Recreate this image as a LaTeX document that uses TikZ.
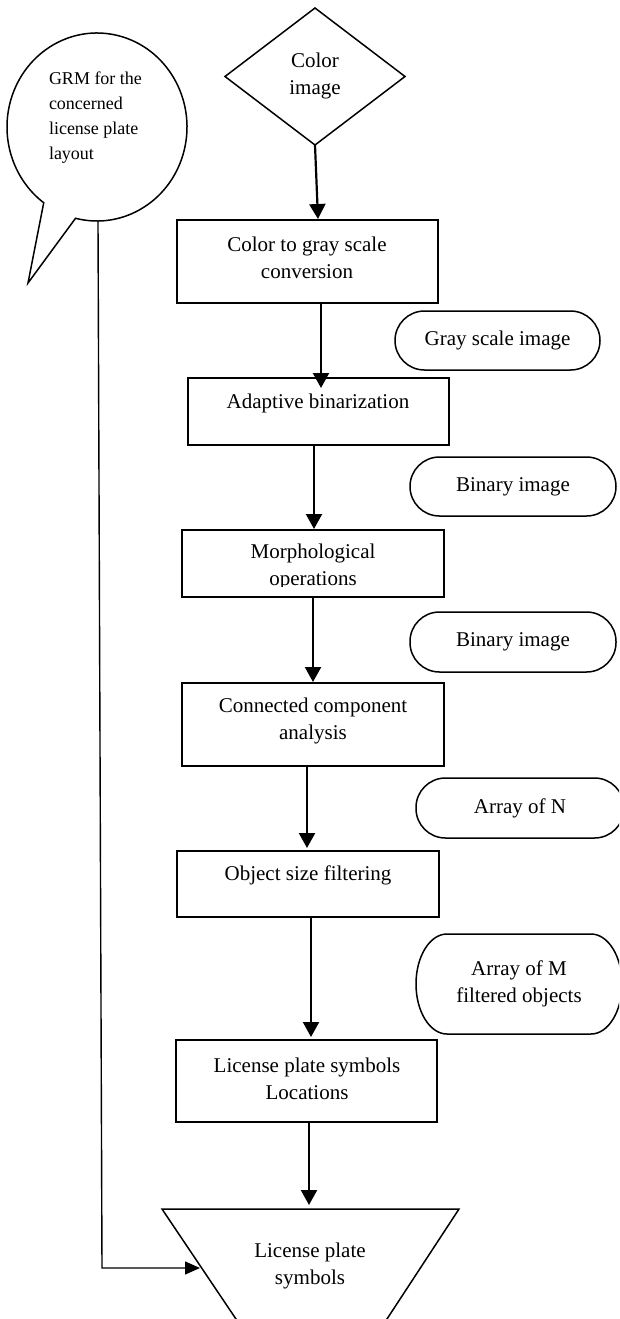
\documentclass[tikz,border=0pt]{standalone}
\usepackage{fontspec}
\setmainfont{Liberation Serif}
\usetikzlibrary{arrows.meta,shapes.geometric,calc}
\begin{document}
\begin{tikzpicture}[x=1pt,y=1pt,
  every node/.style={font=\fontsize{21}{27}\selectfont, inner sep=0pt, outer sep=0pt, align=center},
  box/.style={draw, line width=1.5pt, rectangle},
  term/.style={draw, line width=1.5pt, rounded corners=29.5pt},
  termline/.style={line width=1.5pt},
  arr/.style={line width=2.2pt, -{Triangle[width=16pt,length=15pt]}},
  fb/.style={line width=1.4pt, -{Triangle[width=13pt,length=15pt]}},
  smalltxt/.style={font=\fontsize{18}{25}\selectfont, align=left, anchor=west}
]
\useasboundingbox (0,0) rectangle (619,-1319);
\clip (0,0) rectangle (619,-1319);

% speech bubble
\draw[termline] (75.53,-218.28) arc[start angle=256.2, end angle=593.7, x radius=90, y radius=94] -- (28,-283) -- cycle;
\node[smalltxt] (grm) at (49,-118) {GRM for the\\concerned\\license plate\\layout};
\coordinate (gb) at (98,-221);

% diamond
\node[diamond, draw, line width=1.5pt, minimum width=180pt, minimum height=137pt] (dia) at (315,-76.5) {};
\node (tdia) at (315,-76) {Color\\image};

% boxes
\node[box, minimum width=261pt, minimum height=83pt] (b1) at (307.5,-261.5) {};
\node (t1) at (307,-257.5) {Color to gray scale\\conversion};

\node[box, minimum width=261pt, minimum height=67pt] (b2) at (318.5,-411.5) {};
\node (t2) at (318,-403) {Adaptive binarization};

\node[box, minimum width=262pt, minimum height=67pt] (b3) at (313,-563.5) {};
\begin{scope}
  \clip (182,-530) rectangle (444,-586);
  \node (t3) at (313,-566.5) {Morphological\\operations};
\end{scope}

\node[box, minimum width=262pt, minimum height=83pt] (b4) at (313,-724.5) {};
\node (t4) at (313,-721) {Connected component\\analysis};

\node[box, minimum width=262pt, minimum height=66pt] (b5) at (308,-884) {};
\node (t5) at (308,-875) {Object size filtering};

\node[box, minimum width=261pt, minimum height=82pt] (b6) at (306.5,-1081) {};
\node (t6) at (307,-1079) {License plate symbols\\Locations};

% output trapezoid
\draw[line width=1.5pt] (162,-1209) -- (459,-1209) -- (385,-1322) -- (238,-1322) -- cycle;
\node (lps) at (310,-1265.5) {License plate\\symbols};
\coordinate (trtop) at (309,-1205);
\coordinate (trleft) at (200,-1268);
\coordinate (fbc) at (102,-1268);

% terminators
\node[term, minimum width=205pt, minimum height=59pt] (g) at (497.5,-340.5) {Gray scale image};
\node[term, minimum width=206pt, minimum height=59pt] (bi1) at (513,-486.5) {Binary image};
\node[term, minimum width=206pt, minimum height=60pt] (bi2) at (513,-642) {Binary image};
\node[term, minimum width=208pt, minimum height=60pt] (an) at (520,-808) {Array of N};
\draw[termline] (447,-934) -- (591,-934) arc[start angle=90, end angle=-90, x radius=31, y radius=50]
  -- (447,-1034) arc[start angle=270, end angle=90, x radius=31, y radius=50] -- cycle;
\node (am) at (519,-983.5) {Array of M\\filtered objects};

% arrows
\draw[arr] (dia.south) -- ([xshift=10.5pt,yshift=1pt]b1.north);
\draw[arr] ([xshift=13.5pt]b1.south) -- ([xshift=2.5pt,yshift=-10pt]b2.north);
\draw[arr] ([xshift=-4.5pt]b2.south) -- ([xshift=1pt,yshift=1pt]b3.north);
\draw[arr] (b3.south) -- ([yshift=1pt]b4.north);
\draw[arr] ([xshift=-6pt]b4.south) -- ([xshift=-1pt,yshift=3pt]b5.north);
\draw[arr] ([xshift=3pt]b5.south) -- ([xshift=4.5pt,yshift=3pt]b6.north);
\draw[arr] ([xshift=2.5pt]b6.south) -- (trtop);

% feedback line
\draw[fb] (gb) -- (fbc) -- (trleft);
\end{tikzpicture}
\end{document}
